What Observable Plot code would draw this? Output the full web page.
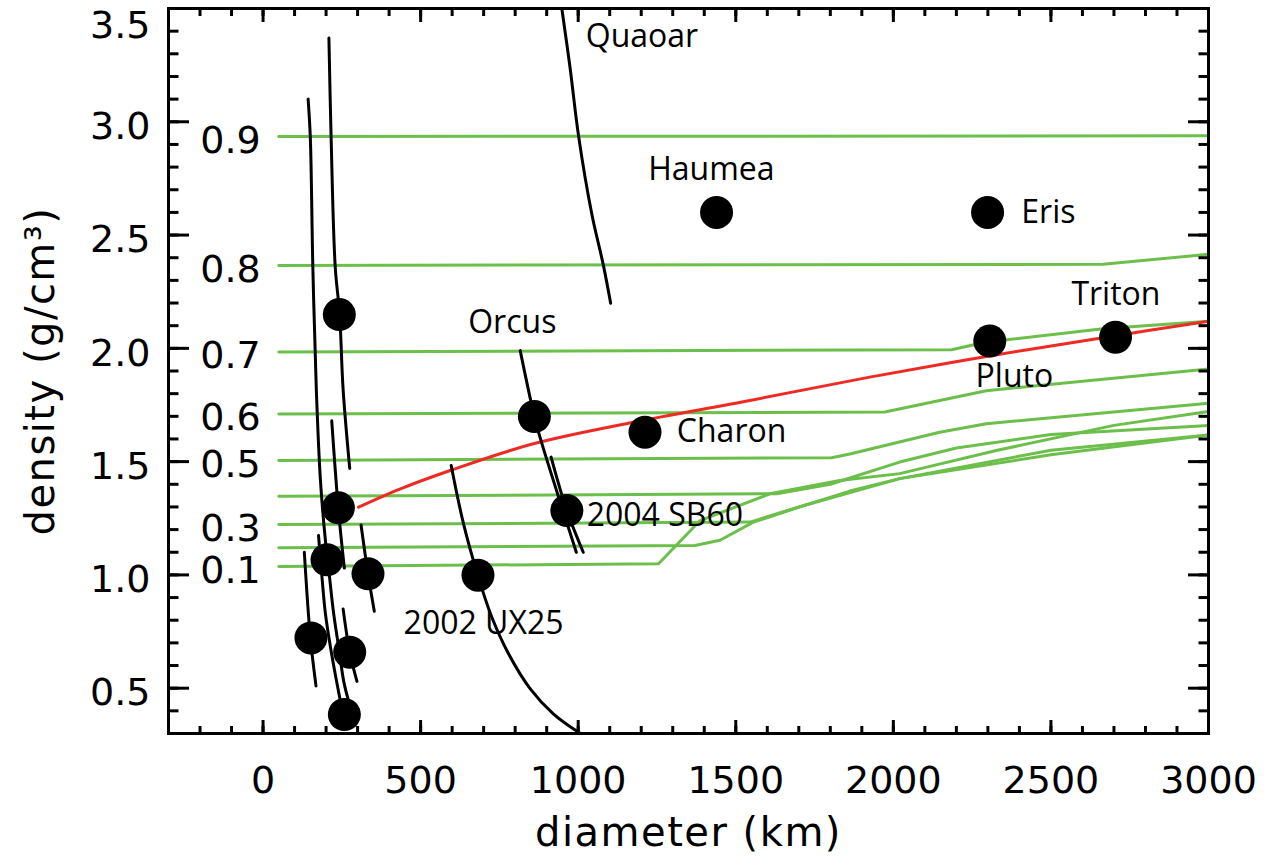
<!DOCTYPE html>
<html>
<head>
<meta charset="utf-8">
<script src="https://cdn.jsdelivr.net/npm/d3@7"></script>
<script src="https://cdn.jsdelivr.net/npm/@observablehq/plot@0.6"></script>
<style>
html, body { margin: 0; padding: 0; background: #fff; }
#chart svg { display: block; }
</style>
</head>
<body>
<div id="chart"></div>
<script>
// ---------- tick values ----------
const xMajorTicks = [0, 500, 1000, 1500, 2000, 2500, 3000];
const xMinorTicks = d3.range(-300, 3001, 100);
const yMajorTicks = [0.5, 1.0, 1.5, 2.0, 2.5, 3.0, 3.5];
const yMinorTicks = d3.range(4, 35, 1).map(v => v / 10);
const yLabelTicks = [0.5, 1.0, 1.5, 2.0, 2.5, 3.0];
const yTopLabelTick = [3.5];

// ---------- model lines (rock fraction) : [diameter km, density g/cm3] ----------
const fractions = ["0.9", "0.8", "0.7", "0.6", "0.5", "0.4", "0.3", "0.2", "0.1"];
const green09 = [[50, 2.935], [3000, 2.938]];
const green08 = [[50, 2.366], [2665, 2.371], [3000, 2.415]];
const green07 = [[50, 1.984], [2185, 1.994], [2295, 2.028], [2665, 2.086], [3000, 2.120]];
const green06 = [[50, 1.710], [1973, 1.719], [2147, 1.770], [2295, 1.813], [3000, 1.909]];
const green05 = [[50, 1.505], [1804, 1.517], [1862, 1.534], [2147, 1.630], [2295, 1.667], [3000, 1.758]];
const green04 = [[50, 1.347], [1630, 1.358], [1800, 1.400], [2020, 1.498], [2200, 1.560], [2500, 1.620], [3000, 1.659]];
const green03 = [[50, 1.222], [1545, 1.233], [1700, 1.300], [2020, 1.425], [2500, 1.550], [3000, 1.618]];
const green02 = [[50, 1.120], [1370, 1.130], [1450, 1.153], [1556, 1.233], [1725, 1.310], [1862, 1.370], [2020, 1.425], [2500, 1.530], [3000, 1.618]];
const green01 = [[50, 1.037], [1255, 1.049], [1387, 1.240], [1608, 1.358], [1830, 1.417], [2020, 1.447], [2330, 1.550], [2700, 1.660], [3000, 1.721]];
const greenLines = [green09, green08, green07, green06, green05, green04, green03, green02, green01];
const labelledFractions = ["0.9", "0.8", "0.7", "0.6", "0.5", "0.3", "0.1"];
const fractionLabelDiam = -199;

// ---------- red curve ----------
const redCurve = [[303, 1.299], [436, 1.380], [594, 1.461], [858, 1.579], [1175, 1.674], [1545, 1.770], [1925, 1.873], [2295, 1.964], [2665, 2.047], [3000, 2.120]];

// ---------- black constraint curves ----------
const curveA = [[143, 3.10], [150, 2.93], [158, 2.36], [169, 1.82], [182, 1.42], [198, 1.15], [211, 0.99], [224, 0.83], [240, 0.68], [256, 0.53], [272, 0.44]];
const curveB = [[209, 3.37], [216, 2.93], [229, 2.36], [243, 2.15], [254, 1.82], [275, 1.47]];
const curveC = [[218, 1.68], [239, 1.29], [258, 1.03]];
const curveD = [[311, 1.22], [333, 1.005], [353, 0.84]];
const curveE = [[131, 1.10], [150, 0.725], [168, 0.51]];
const curveF = [[254, 0.85], [275, 0.66], [298, 0.53]];
const curveG = [[176, 1.174], [187, 0.990], [198, 0.828], [214, 0.681], [229, 0.563], [245, 0.446]];
const curveQuaoar = [[948, 3.5], [974, 3.241], [1001, 2.939], [1043, 2.594], [1080, 2.366], [1103, 2.199]];
const curveOrcus = [[816, 1.990], [861, 1.699], [882, 1.593], [994, 1.100]];
const curveSB60 = [[914, 1.520], [964, 1.284], [1016, 1.100]];
const curveUX25 = [[597, 1.483], [636, 1.226], [681, 1.000], [726, 0.813], [779, 0.652], [848, 0.497], [921, 0.387], [1006, 0.301]];
const blackCurves = [curveA, curveB, curveC, curveD, curveE, curveF, curveG, curveQuaoar, curveOrcus, curveSB60, curveUX25];

// ---------- objects ----------
const dotDiam = [242, 239, 203, 333, 152, 275, 258, 861, 1212, 964, 682, 1439, 2299, 2306, 2705];
const dotDens = [2.149, 1.296, 1.067, 1.005, 0.722, 0.659, 0.384, 1.699, 1.630, 1.284, 0.999, 2.600, 2.600, 2.032, 2.049];

const labelNames = ["Quaoar", "Haumea", "Orcus", "Eris", "Triton", "Pluto", "Charon", "2004 SB60", "2002 UX25"];
const labelDiam = [1024, 1222, 651, 2406, 2565, 2261, 1313, 1027, 446];
const labelDens = [3.329, 2.741, 2.066, 2.552, 2.192, 1.829, 1.586, 1.218, 0.740];

// ---------- build tables ----------
const greenRows = fractions.flatMap((f, i) => greenLines[i].map(([d, r]) => ({f, d, r})));
const fracLabelRows = labelledFractions.map(f => ({f, d: fractionLabelDiam, r: greenLines[fractions.indexOf(f)][0][1]}));
const redRows = redCurve.map(([d, r]) => ({d, r}));
const blackRows = blackCurves.flatMap((c, i) => c.map(([d, r]) => ({c: i, d, r})));
const dotRows = dotDiam.map((d, i) => ({d, r: dotDens[i]}));
const labelRows = labelNames.map((n, i) => ({n, d: labelDiam[i], r: labelDens[i]}));

const GREEN = "#6cbf4a";
const RED = "#ee2a24";
const AXIS_FONT = "DejaVu Sans";

const tickAxis = (fn, ticks, anchor, size) => fn(ticks, {anchor, tickSize: -size, fill: "none", stroke: "black", strokeWidth: 3, label: null});

const chart = Plot.plot({
  width: 1272,
  height: 860,
  marginLeft: 168,
  marginRight: 64,
  marginTop: 8,
  marginBottom: 127,
  x: {domain: [-300, 3000], axis: null},
  y: {domain: [0.3, 3.5], axis: null},
  style: {fontFamily: AXIS_FONT, fontSize: "38px", background: "#fff", color: "black"},
  marks: [
    Plot.line(greenRows, {x: "d", y: "r", z: "f", stroke: GREEN, strokeWidth: 3}),
    Plot.line(redRows, {x: "d", y: "r", stroke: RED, strokeWidth: 3, curve: "catmull-rom"}),
    Plot.line(blackRows, {x: "d", y: "r", z: "c", stroke: "black", strokeWidth: 3, curve: "catmull-rom", clip: true}),
    Plot.dot(dotRows, {x: "d", y: "r", r: 16.5, fill: "black", stroke: "none"}),
    Plot.text(fracLabelRows, {x: "d", y: "r", text: "f", textAnchor: "start", lineAnchor: "middle", dy: 4, fontFamily: AXIS_FONT, fontSize: 38, fill: "black"}),
    Plot.text(labelRows, {x: "d", y: "r", text: "n", textAnchor: "start", lineAnchor: "bottom", fontFamily: "Open Sans", fontSize: 32, fill: "black"}),
    // inward ticks on all four sides
    tickAxis(Plot.axisX, xMajorTicks, "bottom", 13),
    tickAxis(Plot.axisX, xMinorTicks, "bottom", 7),
    tickAxis(Plot.axisX, xMajorTicks, "top", 13),
    tickAxis(Plot.axisX, xMinorTicks, "top", 7),
    tickAxis(Plot.axisY, yMajorTicks, "left", 21),
    tickAxis(Plot.axisY, yMinorTicks, "left", 10.5),
    tickAxis(Plot.axisY, yMajorTicks, "right", 21),
    tickAxis(Plot.axisY, yMinorTicks, "right", 10.5),
    // tick labels
    Plot.axisX(xMajorTicks, {anchor: "bottom", tickSize: 0, tickPadding: 33, tickFormat: "d", label: null, fontSize: 38}),
    Plot.axisY(yLabelTicks, {anchor: "left", tickSize: 0, tickPadding: 18, tickFormat: ".1f", label: null, dy: 5, fontSize: 38}),
    Plot.axisY(yTopLabelTick, {anchor: "left", tickSize: 0, tickPadding: 18, tickFormat: ".1f", label: null, dy: 17, fontSize: 38}),
    // axis titles
    Plot.text(["diameter (km)"], {frameAnchor: "bottom", dy: 112, textAnchor: "middle", lineAnchor: "bottom", fontFamily: AXIS_FONT, fontSize: 40, fill: "black"}),
    Plot.text(["density (g/cm³)"], {frameAnchor: "left", dx: -115, rotate: -90, textAnchor: "middle", lineAnchor: "bottom", fontFamily: AXIS_FONT, fontSize: 40, fill: "black"}),
    Plot.frame({stroke: "black", strokeWidth: 3})
  ]
});

chart.querySelectorAll("text").forEach(t => {
  if (t.textContent === "diameter (km)" || t.textContent === "density (g/cm³)") t.style.letterSpacing = "1.5px";
});
document.getElementById("chart").appendChild(chart);
</script>
</body>
</html>
